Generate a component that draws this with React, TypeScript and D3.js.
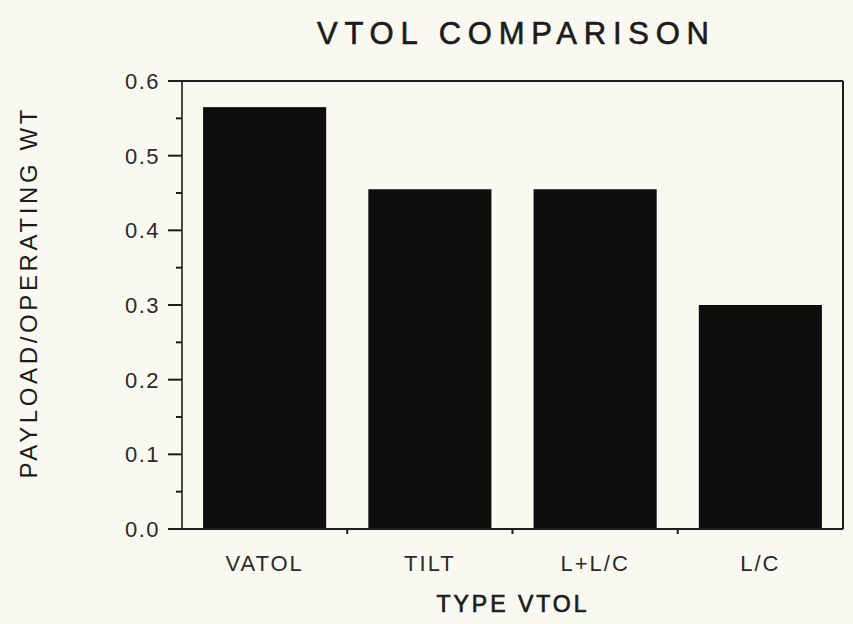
import React from "react";
import * as d3 from "d3";

const categories = ["VATOL", "TILT", "L+L/C", "L/C"];
const values = [0.565, 0.455, 0.455, 0.3];
const yTicks = [0, 0.1, 0.2, 0.3, 0.4, 0.5, 0.6];
const yMinorTicks = [0.05, 0.15, 0.25, 0.35, 0.45, 0.55];
const title = "VTOL  COMPARISON";
const xTitle = "TYPE  VTOL";
const yTitle = "PAYLOAD/OPERATING  WT";

export default function App() {
  const W = 853, H = 624;
  const left = 182, right = 843, top = 81, bottom = 529;
  const x = d3.scaleBand<string>().domain(categories).range([left, right]).paddingInner(0.255).paddingOuter(0.1275);
  const xs = d3.scaleBand<string>().domain(categories).range([left, right]).padding(0);
  const y = d3.scaleLinear().domain([0, 0.6]).range([bottom, top]);
  const font = "'Liberation Sans', Arial, Helvetica, sans-serif";
  const ink = "#1c1c1c";
  return (
    <svg width={W} height={H} style={{ position: "absolute", left: 0, top: 0, background: "#f9f9f2" }}>
      <rect x={0} y={0} width={W} height={H} fill="#f9f9f2" />
      <text x={513} y={44} textAnchor="middle" fontFamily={font} fontSize={31} fill={ink}
        stroke={ink} strokeWidth={0.6} textLength={392} lengthAdjust="spacing">{title}</text>
      {categories.map((c, i) => (
        <rect key={c} x={x(c)} y={y(values[i])} width={x.bandwidth()} height={bottom - y(values[i])} fill="#0d0d0d" />
      ))}
      {/* frame */}
      <line x1={168} x2={right} y1={top} y2={top} stroke={ink} strokeWidth={2.2} />
      <line x1={right} x2={right} y1={top} y2={bottom} stroke={ink} strokeWidth={2} />
      <line x1={left} x2={left} y1={top} y2={bottom} stroke={ink} strokeWidth={1.6} />
      <line x1={168} x2={right} y1={bottom} y2={bottom} stroke={ink} strokeWidth={2.2} />
      {yTicks.map((t) => (
        <g key={t}>
          <line x1={168} x2={left} y1={y(t)} y2={y(t)} stroke={ink} strokeWidth={2} />
          <text x={160} y={y(t) + 8} textAnchor="end" fontFamily={font} fontSize={22} fill="#2a2a2a"
            letterSpacing={1.5}>{t.toFixed(1)}</text>
        </g>
      ))}
      {yMinorTicks.map((t) => (
        <line key={t} x1={176} x2={left} y1={y(t)} y2={y(t)} stroke={ink} strokeWidth={2} />
      ))}
      {categories.slice(1).map((c) => (
        <line key={c} x1={xs(c)} x2={xs(c)} y1={bottom} y2={bottom + 5} stroke={ink} strokeWidth={2} />
      ))}
      {categories.map((c) => (
        <text key={c} x={(x(c) as number) + x.bandwidth() / 2} y={571} textAnchor="middle" fontFamily={font}
          fontSize={22} fill="#2a2a2a" letterSpacing={2}>{c}</text>
      ))}
      <text x={513} y={612} textAnchor="middle" fontFamily={font} fontSize={23} fill={ink}
        stroke={ink} strokeWidth={0.7} letterSpacing={3}>{xTitle}</text>
      <text transform={`translate(37,294) rotate(-90)`} textAnchor="middle" fontFamily={font} fontSize={24}
        fill={ink} textLength={369} lengthAdjust="spacing">{yTitle}</text>
    </svg>
  );
}
